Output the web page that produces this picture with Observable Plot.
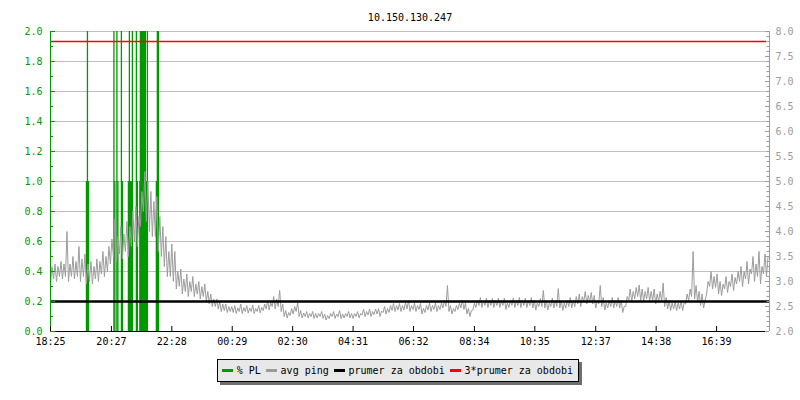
<!DOCTYPE html>
<html>
<head>
<meta charset="utf-8">
<script src="https://cdn.jsdelivr.net/npm/d3@7"></script>
<script src="https://cdn.jsdelivr.net/npm/@observablehq/plot@0.6"></script>
<style>
  html, body { margin: 0; padding: 0; background: #fff; }
  #wrap { position: relative; width: 800px; height: 400px; font-family: "DejaVu Sans Mono", monospace; font-size: 10px; }
  #legend { position: absolute; left: 217px; top: 359px; height: 23px; width: 362px; box-sizing: border-box;
    border: 1px solid #000; background: #e8e8e8; box-shadow: 3px 3px 0 #6e6e6e;
    display: flex; align-items: center; padding-left: 4px; white-space: nowrap; }
  #legend .sw { display: inline-block; width: 11px; height: 3px; margin-right: 4px; }
  #legend .lb { margin-right: 5px; color: #000; }
</style>
</head>
<body>
<div id="wrap"><div id="chart"></div><div id="legend"></div></div>
<script>
const title = "10.150.130.247";
// x tick positions (minutes from start) and their labels
const tickMinutes = [0, 122, 243, 364, 485, 606, 727, 849, 970, 1092, 1213, 1334];
const tickLabels = ["18:25", "20:27", "22:28", "00:29", "02:30", "04:31", "06:32", "08:34", "10:35", "12:37", "14:38", "16:39"];
const spanMinutes = 1440;
const pingStepMinutes = 6;
// avg ping (ms, right axis): low and high of the noisy trace in each 6-minute slot
const pingLow = [
  2.95,3.05,3.0,3.1,3.05,3.1,3.0,3.1,3.05,3.1,
  3.0,3.1,2.95,3.0,2.95,3.05,3.0,3.15,3.1,3.2,
  3.35,3.5,3.4,3.55,3.45,3.6,3.5,3.7,3.8,3.7,
  4.1,4.4,4.2,4.0,3.9,3.9,3.6,3.5,3.3,3.1,
  3.1,3.0,2.85,2.9,2.75,2.8,2.7,2.8,2.7,2.75,
  2.65,2.7,2.6,2.55,2.5,2.5,2.45,2.4,2.42,2.38,
  2.4,2.38,2.36,2.4,2.36,2.4,2.37,2.4,2.36,2.4,
  2.37,2.42,2.45,2.43,2.5,2.45,2.5,2.4,2.3,2.27,
  2.32,2.35,2.4,2.3,2.27,2.3,2.27,2.3,2.26,2.27,
  2.3,2.26,2.23,2.26,2.3,2.26,2.3,2.26,2.27,2.3,
  2.27,2.26,2.3,2.27,2.33,2.3,2.33,2.3,2.34,2.35,
  2.3,2.38,2.35,2.38,2.42,2.4,2.43,2.4,2.43,2.45,
  2.4,2.44,2.4,2.44,2.35,2.38,2.43,2.4,2.44,2.4,
  2.44,2.47,2.5,2.4,2.35,2.4,2.44,2.47,2.44,2.35,
  2.3,2.43,2.48,2.52,2.48,2.52,2.48,2.52,2.48,2.52,
  2.48,2.52,2.44,2.48,2.52,2.48,2.52,2.48,2.52,2.48,
  2.52,2.47,2.43,2.5,2.5,2.47,2.43,2.5,2.47,2.5,
  2.47,2.42,2.47,2.5,2.47,2.5,2.55,2.5,2.6,2.55,
  2.58,2.55,2.47,2.55,2.5,2.43,2.47,2.5,2.47,2.5,
  2.47,2.38,2.5,2.62,2.6,2.65,2.7,2.62,2.6,2.65,
  2.6,2.62,2.55,2.6,2.6,2.5,2.45,2.42,2.45,2.42,
  2.45,2.42,2.55,2.62,2.7,2.65,2.58,2.52,2.47,2.75,
  2.9,2.85,2.88,2.75,2.72,2.85,2.78,2.9,2.82,2.95,
  3.0,2.9,3.05,2.95,3.15,3.0,3.1,2.95,3.15,3.1
];
const pingHigh = [
  3.3,3.35,3.3,3.4,3.35,4.0,3.35,3.5,3.4,3.7,
  3.45,3.55,3.35,3.4,3.3,3.45,3.4,3.6,3.5,3.7,
  3.85,4.25,3.9,4.1,3.95,4.2,4.1,4.4,4.5,4.3,
  4.8,5.2,5.0,4.8,4.6,4.7,4.3,4.1,3.9,3.6,
  3.75,3.6,3.2,3.25,3.05,3.15,3.0,3.1,2.95,3.0,
  2.9,2.95,2.8,2.75,2.65,2.65,2.6,2.55,2.55,2.5,
  2.5,2.52,2.47,2.55,2.48,2.52,2.47,2.53,2.46,2.52,
  2.48,2.55,2.62,2.58,2.7,2.65,2.82,2.55,2.42,2.38,
  2.46,2.5,2.58,2.42,2.37,2.4,2.36,2.4,2.36,2.36,
  2.4,2.35,2.32,2.36,2.4,2.35,2.42,2.35,2.36,2.4,
  2.36,2.36,2.4,2.36,2.45,2.4,2.45,2.4,2.45,2.46,
  2.41,2.5,2.46,2.52,2.56,2.52,2.56,2.52,2.58,2.62,
  2.52,2.57,2.52,2.56,2.46,2.52,2.57,2.52,2.57,2.52,
  2.57,2.62,2.92,2.52,2.46,2.52,2.57,2.63,2.57,2.46,
  2.42,2.57,2.63,2.68,2.62,2.67,2.62,2.66,2.62,2.67,
  2.62,2.67,2.57,2.62,2.67,2.62,2.68,2.62,2.67,2.62,
  2.68,2.62,2.57,2.66,2.82,2.62,2.57,2.67,2.62,2.86,
  2.62,2.57,2.63,2.68,2.62,2.7,2.75,2.7,2.8,2.72,
  2.78,2.72,2.62,2.92,2.68,2.57,2.62,2.68,2.62,2.68,
  2.62,2.5,2.7,2.85,2.8,2.88,2.93,2.85,2.8,2.88,
  2.8,2.85,2.75,2.8,2.97,2.68,2.62,2.57,2.6,2.57,
  2.62,2.57,2.75,2.85,3.6,2.92,2.8,2.75,2.62,3.0,
  3.2,3.1,3.15,3.0,2.95,3.1,3.0,3.15,3.08,3.2,
  3.3,3.2,3.4,3.25,3.5,3.35,3.6,3.3,3.55,3.5
];
// packet loss (% PL, left axis)
const plTimes  = [72,74,76,127,129,133,135,142,144,156,158,160,162,164,172,174,179,180,182,184,186,188,190,192,194,212,214,216];
const plValues = [1,2,1,2,1,2,1,2,1,1,2,1,1,2,2,1,1,2,2,2,2,2,2,1,2,1,2,2];
const prumer = 2.6; // mean ping (ms)
const leftTicks = [0,0.2,0.4,0.6,0.8,1.0,1.2,1.4,1.6,1.8,2.0];
const rightTicks = [2.0,2.5,3.0,3.5,4.0,4.5,5.0,5.5,6.0,6.5,7.0,7.5,8.0];
const legendItems = ["% PL", "avg ping", "prumer za obdobi", "3*prumer za obdobi"];

const GREEN = "#009900", GRAY = "#9c9c9c", GRID = "#c0c0c0", RED = "#ff0000";
const toLeft = v => (v - 2) / 3;          // right axis (ms) -> left scale
const half = pingStepMinutes / 2;
const pingData = pingLow.flatMap((lo, i) => [
  {t: i * pingStepMinutes, v: lo},
  {t: i * pingStepMinutes + half, v: pingHigh[i]}
]);
const plData = plTimes.map((t, i) => ({t, v: plValues[i]}));
const leftMinor = d3.range(0, 21).map(k => k / 10).filter(v => Math.round(v * 10) % 2 !== 0);
const rightMinor = d3.range(20, 81).map(k => k / 10).filter(v => Math.round(v * 10) % 5 !== 0).map(toLeft);
const rightMajor = rightTicks.map(toLeft);
const pxMin = spanMinutes / 719; // minutes per pixel

const chart = Plot.plot({
  width: 800, height: 400,
  marginTop: 31, marginBottom: 69, marginLeft: 50, marginRight: 31,
  x: {domain: [0, spanMinutes]},
  y: {domain: [0, 2]},
  style: {fontFamily: "'DejaVu Sans Mono', monospace", fontSize: "10px", background: "white", overflow: "visible"},
  marks: [
    Plot.ruleY(leftTicks.slice(1), {stroke: GRID, strokeWidth: 1}),
    Plot.ruleX(plData, {x: "t", y1: 0, y2: "v", stroke: GREEN, strokeWidth: 1.3}),
    Plot.line(pingData, {x: "t", y: d => toLeft(d.v), stroke: GRAY, strokeWidth: 1}),
    Plot.ruleY([toLeft(prumer)], {stroke: "#000", strokeWidth: 2.6}),
    Plot.ruleY([toLeft(3 * prumer)], {stroke: RED, strokeWidth: 1.3, x1: 0, x2: spanMinutes - 3 * pxMin}),
    // axis lines
    Plot.ruleX([0], {stroke: GREEN}),
    Plot.ruleX([spanMinutes], {stroke: GRAY}),
    Plot.ruleY([0], {stroke: "#000", strokeWidth: 1.2}),
    // left ticks (inward)
    Plot.ruleY(leftTicks, {x1: 0, x2: 5 * pxMin, stroke: GREEN}),
    Plot.ruleY(leftMinor, {x1: 0, x2: 3 * pxMin, stroke: GREEN}),
    // right ticks (inward)
    Plot.ruleY(rightMajor, {x1: spanMinutes - 4 * pxMin, x2: spanMinutes, stroke: GRAY}),
    Plot.ruleY(rightMinor, {x1: spanMinutes - 2.5 * pxMin, x2: spanMinutes, stroke: GRAY}),
    // bottom ticks (inward)
    Plot.ruleX(tickMinutes, {y1: 0, y2: 5 / 150, stroke: "#000"}),
    Plot.axisY(leftTicks, {anchor: "left", tickSize: 0, tickPadding: 8, tickFormat: d => d.toFixed(1), color: GREEN, label: null, fontSize: 10}),
    Plot.axisY(rightMajor, {anchor: "right", tickSize: 0, tickPadding: 6, tickFormat: d => (2 + 3 * d).toFixed(1), color: GRAY, label: null, fontSize: 10}),
    Plot.axisX(tickMinutes, {anchor: "bottom", tickSize: 0, tickPadding: 6, tickFormat: d => tickLabels[tickMinutes.indexOf(d)], color: "#000", label: null, fontSize: 10}),
    Plot.text([title], {text: d => d, frameAnchor: "top", dy: -18, fill: "#000", fontSize: 10})
  ]
});
document.getElementById("chart").appendChild(chart);

const legendColors = [GREEN, GRAY, "#000", RED];
const legend = document.getElementById("legend");
legendItems.forEach((name, i) => {
  const sw = document.createElement("span");
  sw.className = "sw"; sw.style.background = legendColors[i];
  const lb = document.createElement("span");
  lb.className = "lb"; lb.textContent = name;
  legend.appendChild(sw); legend.appendChild(lb);
});
</script>
</body>
</html>
